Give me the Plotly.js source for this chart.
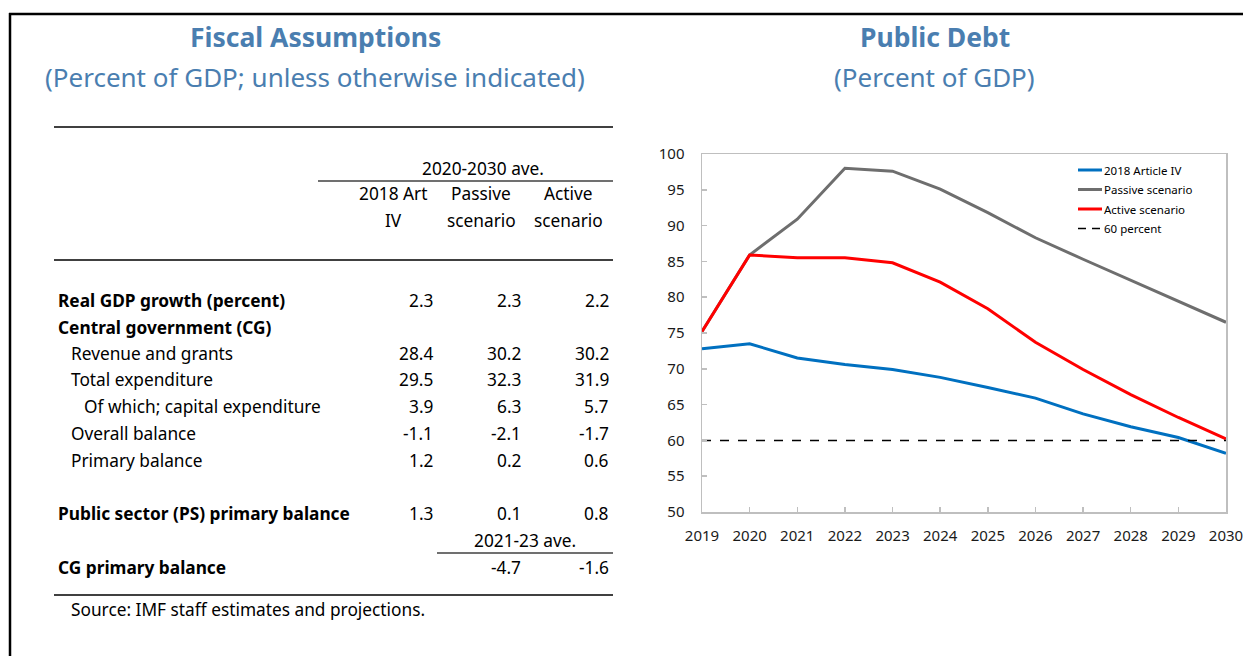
<!DOCTYPE html>
<html>
<head>
<meta charset="utf-8">
<script src="https://cdn.plot.ly/plotly-3.0.1.min.js"></script>
<style>html,body{margin:0;padding:0;background:#fff;}#chart{width:1243px;height:656px;}</style>
</head>
<body>
<div id="chart"></div>
<script>
// ---- Chart data ----
const years = [2019, 2020, 2021, 2022, 2023, 2024, 2025, 2026, 2027, 2028, 2029, 2030];
const article4 = [72.8, 73.5, 71.5, 70.6, 69.9, 68.8, 67.4, 65.9, 63.7, 61.9, 60.4, 58.2];
const passive  = [75.2, 85.9, 90.9, 98.0, 97.6, 95.1, 91.8, 88.3, 85.3, 82.4, 79.5, 76.5];
const active   = [75.2, 85.9, 85.5, 85.5, 84.8, 82.1, 78.4, 73.7, 69.9, 66.4, 63.2, 60.2];
const sixty    = [60, 60, 60, 60, 60, 60, 60, 60, 60, 60, 60, 60];
const seriesNames = ["2018 Article IV", "Passive scenario", "Active scenario", "60 percent"];

// ---- Table data ----
const rowLabels = ["Real GDP growth (percent)", "Central government (CG)", "Revenue and grants",
  "Total expenditure", "Of which; capital expenditure", "Overall balance", "Primary balance",
  "Public sector (PS) primary balance", "CG primary balance"];
const colArt4    = [2.3, null, 28.4, 29.5, 3.9, -1.1, 1.2, 1.3, null];
const colPassive = [2.3, null, 30.2, 32.3, 6.3, -2.1, 0.2, 0.1, -4.7];
const colActive  = [2.2, null, 30.2, 31.9, 5.7, -1.7, 0.6, 0.8, -1.6];
const periodHeader = "2020-2030 ave.";
const colHeaders = [["2018 Art", "IV"], ["Passive", "scenario"], ["Active", "scenario"]];
const subPeriodHeader = "2021-23 ave.";
const sourceNote = "Source: IMF staff estimates and projections.";
const leftTitle = "Fiscal Assumptions";
const leftSubtitle = "(Percent of GDP; unless otherwise indicated)";
const rightTitle = "Public Debt";
const rightSubtitle = "(Percent of GDP)";

// ---- Layout helpers ----
const W = 1243, H = 656;
const X = px => px / W;
const Y = py => 1 - py / H;
const FONT = "Noto Sans, Open Sans, sans-serif";
const TITLE_COLOR = "#4a7eb0";
const TS = 17.3;

const rowY = [300, 327, 353, 379, 406, 433, 460, 513, 567];
const rowIndent = [56, 56, 69, 69, 82, 69, 69, 56, 56];
const rowIsBold = [true, true, false, false, false, false, false, true, true];
const colRight = [435, 523, 611];
const colCenter = [393, 481, 568];

const ann = [];
function txt(text, x, y, opts) {
  ann.push(Object.assign({
    text: text, x: X(x), y: Y(y), xref: "paper", yref: "paper",
    showarrow: false, xanchor: "left", yanchor: "middle",
    font: {family: FONT, size: TS, color: "#000"}
  }, opts || {}));
}

// titles
txt("<b>" + leftTitle + "</b>", 315, 37, {xanchor: "center", font: {family: FONT, size: 26.5, color: TITLE_COLOR}});
txt(leftSubtitle, 315, 77, {xanchor: "center", font: {family: FONT, size: 26, color: TITLE_COLOR}});
txt("<b>" + rightTitle + "</b>", 935, 37, {xanchor: "center", font: {family: FONT, size: 26.5, color: TITLE_COLOR}});
txt(rightSubtitle, 935, 77, {xanchor: "center", font: {family: FONT, size: 26, color: TITLE_COLOR}});

// table headers
txt(periodHeader, 483, 168, {xanchor: "center"});
colHeaders.forEach((h, i) => {
  txt(h[0], colCenter[i], 194, {xanchor: "center"});
  txt(h[1], colCenter[i], 220, {xanchor: "center"});
});
txt(subPeriodHeader, 525, 540, {xanchor: "center"});

// table rows
const cols = [colArt4, colPassive, colActive];
rowLabels.forEach((lab, i) => {
  txt(rowIsBold[i] ? "<b>" + lab + "</b>" : lab, rowIndent[i], rowY[i]);
  cols.forEach((c, j) => {
    if (c[i] !== null) txt(c[i].toFixed(1), colRight[j], rowY[i], {xanchor: "right"});
  });
});
txt(sourceNote, 69, 609);

const shapes = [];
function hline(x0, x1, y, w, color, dash) {
  shapes.push({type: "line", xref: "paper", yref: "paper", x0: X(x0), x1: X(x1), y0: Y(y), y1: Y(y),
    line: {color: color || "#404040", width: w || 1.5, dash: dash || "solid"}});
}
function vline(x, y0, y1, w, color) {
  shapes.push({type: "line", xref: "paper", yref: "paper", x0: X(x), x1: X(x), y0: Y(y0), y1: Y(y1),
    line: {color: color || "#000", width: w || 2}});
}
// outer border (top and left)
hline(9, 1243, 14, 2.5, "#000");
vline(10, 13, 656, 2.5, "#000");
// table rules
hline(54, 613, 127, 2);
hline(318, 613, 181, 1.5);
hline(54, 613, 260, 2);
hline(437, 613, 553, 1.5);
hline(54, 613, 595, 2);

// trace styles
const styles = [
  {color: "#0070c0", width: 3, dash: "solid"},
  {color: "#6e6e6e", width: 3, dash: "solid"},
  {color: "#ff0000", width: 3, dash: "solid"},
  {color: "#000000", width: 1.5, dash: "dash"}
];
const seriesY = [article4, passive, active, sixty];
const traces = seriesY.map((ys, i) => ({
  x: years, y: ys, name: seriesNames[i], mode: "lines", line: styles[i], showlegend: false
}));

// legend (key lines + labels)
const legY = [170, 189.5, 209, 228.5];
seriesNames.forEach((nm, i) => {
  if (styles[i].dash === "dash") {
    hline(1078, 1086, legY[i], 1.5, "#000");
    hline(1092, 1100, legY[i], 1.5, "#000");
  } else {
    hline(1078, 1102, legY[i], 3, styles[i].color);
  }
  txt(nm, 1102, legY[i], {font: {family: FONT, size: 11.5, color: "#000"}});
});

const axisCommon = {
  showline: true, linecolor: "#bfbfbf", linewidth: 1.5, mirror: true,
  ticks: "inside", ticklen: 5, tickcolor: "#bfbfbf", tickwidth: 1.5,
  showgrid: false, zeroline: false,
  tickfont: {family: FONT, size: 15, color: "#1a1a1a"},
  ticklabeloverflow: "allow"
};

const layout = {
  width: W, height: H,
  margin: {l: 0, r: 0, t: 0, b: 0},
  paper_bgcolor: "#fff", plot_bgcolor: "#fff",
  showlegend: false,
  xaxis: Object.assign({}, axisCommon, {
    domain: [X(702), X(1226)], range: [2019, 2030], tickvals: years, tickformat: "d",
    ticklabelstandoff: 9
  }),
  yaxis: Object.assign({}, axisCommon, {
    domain: [Y(512), Y(154)], range: [50, 100], dtick: 5, tick0: 50,
    ticklabelstandoff: 13
  }),
  annotations: ann,
  shapes: shapes
};

Plotly.newPlot("chart", traces, layout, {displayModeBar: false, staticPlot: true});
</script>
</body>
</html>
